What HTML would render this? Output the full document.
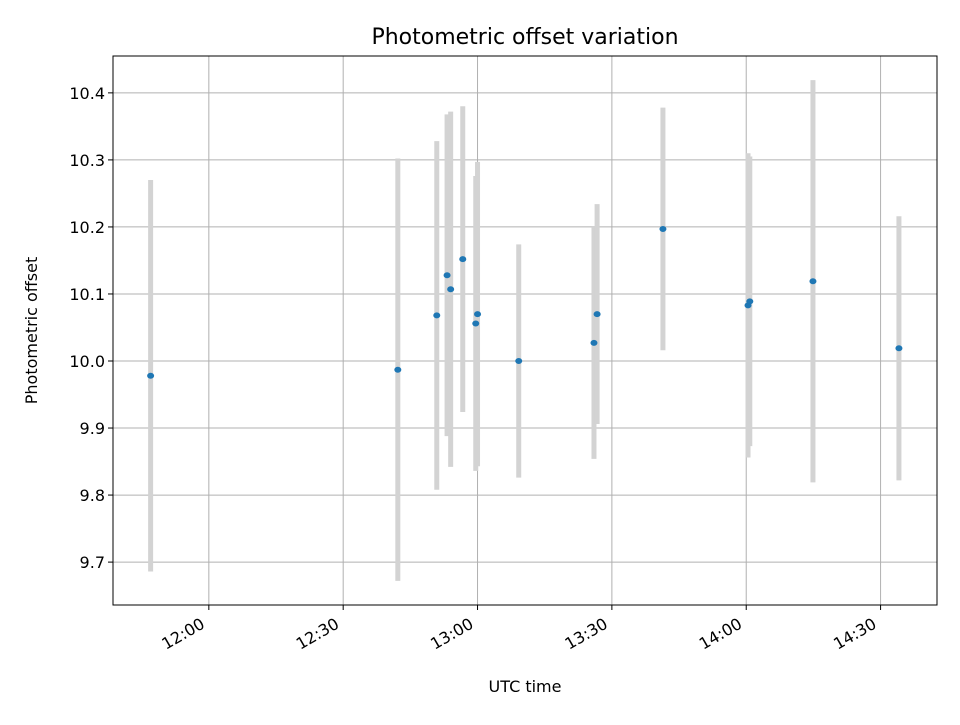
<!DOCTYPE html>
<html><head><meta charset="utf-8"><style>
body{margin:0;background:#fff}
text{font-family:"DejaVu Sans","Liberation Sans",sans-serif}
</style></head><body>
<svg id="chart" width="960" height="720" xmlns="http://www.w3.org/2000/svg"></svg>
<script>
const times = ["11:47","12:42.2","12:50.9","12:53.2","12:54","12:56.7","12:59.6","13:00","13:09.2","13:26","13:26.7","13:41.4","14:00.4","14:00.8","14:14.9","14:34.1"];
const offsets = [9.978,9.987,10.068,10.128,10.107,10.152,10.056,10.07,10.0,10.027,10.07,10.197,10.083,10.089,10.119,10.019];
const errors = [0.292,0.315,0.26,0.24,0.265,0.228,0.22,0.227,0.174,0.173,0.164,0.181,0.227,0.216,0.3,0.197];
const xTickLabels = ["12:00","12:30","13:00","13:30","14:00","14:30"];
const yTickLabels = ["9.7","9.8","9.9","10.0","10.1","10.2","10.3","10.4"];

const svg = document.getElementById('chart');
const NS = 'http://www.w3.org/2000/svg';
const L=113,R=937,T=56,B=605;
function toMin(s){const [h,m]=s.split(':');return (+h)*60+parseFloat(m);}
const xMin=toMin("11:38.6"), xMax=toMin("14:42.6");
const yMin=9.636, yMax=10.455;
const xs=v=>L+(v-xMin)/(xMax-xMin)*(R-L);
const ys=v=>B-(v-yMin)/(yMax-yMin)*(B-T);
function el(tag,attrs,name,txt,size){const e=document.createElementNS(NS,tag);for(const k in attrs)e.setAttribute(k,attrs[k]);


if(size)e.style.fontSize=size+'px';
if(txt!==undefined)e.textContent=txt;svg.appendChild(e);return e;}

xTickLabels.forEach(t=>{const x=xs(toMin(t));
el('line',{x1:x,x2:x,y1:T,y2:B,stroke:'#b0b0b0','stroke-width':1},'x-grid-line');
el('line',{x1:x,x2:x,y1:B,y2:B+5,stroke:'#000','stroke-width':1},'x-tick');
el('text',{x:x-3,y:B+22,'text-anchor':'end',transform:`rotate(-30 ${x-3} ${B+22})`},'x-tick-label',t,16);});
yTickLabels.forEach(t=>{const y=ys(parseFloat(t));
el('line',{x1:L,x2:R,y1:y,y2:y,stroke:'#b0b0b0','stroke-width':1},'y-grid-line');
el('line',{x1:L-5,x2:L,y1:y,y2:y,stroke:'#000','stroke-width':1},'y-tick');
el('text',{x:L-8,y:y+6,'text-anchor':'end'},'y-tick-label',t,16);});

times.forEach((t,i)=>{const x=xs(toMin(t));
el('line',{x1:x,x2:x,y1:ys(offsets[i]+errors[i]),y2:ys(offsets[i]-errors[i]),stroke:'#d3d3d3','stroke-width':5},'error-bar');});
times.forEach((t,i)=>{
el('ellipse',{cx:xs(toMin(t)),cy:ys(offsets[i]),rx:3.5,ry:3,fill:'#1f77b4'},'data-point');});

el('rect',{x:L,y:T,width:R-L,height:B-T,fill:'none',stroke:'#000','stroke-width':1},'plot-frame');
el('text',{x:(L+R)/2+0,y:44,'text-anchor':'middle'},'chart-title','Photometric offset variation',22);
el('text',{x:(L+R)/2,y:692,'text-anchor':'middle'},'x-axis-title','UTC time',16);
el('text',{x:37,y:(T+B)/2,'text-anchor':'middle',transform:`rotate(-90 37 ${(T+B)/2})`},'y-axis-title','Photometric offset',16);
</script>
</body></html>
